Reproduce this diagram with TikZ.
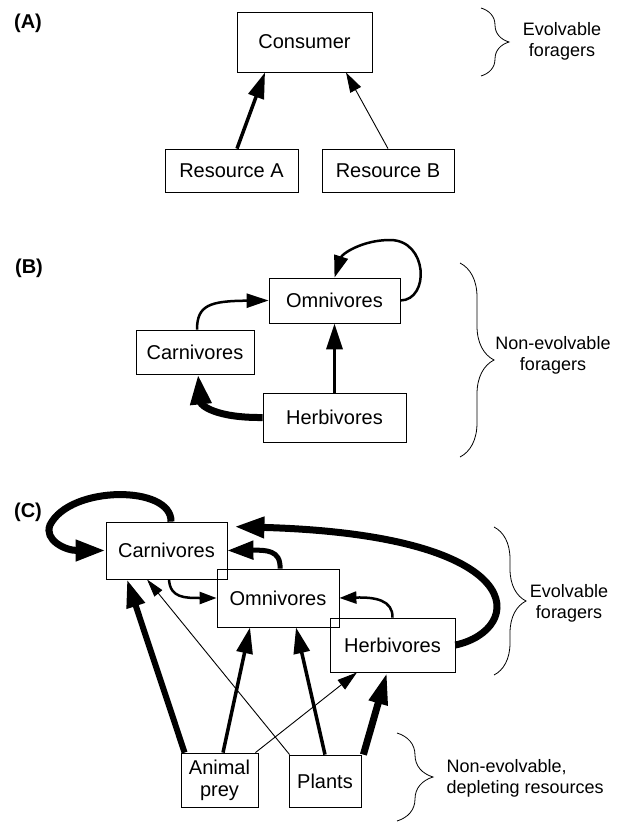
\documentclass[tikz,border=0pt]{standalone}
\usepackage{fontspec}
\setmainfont{Liberation Sans}
\usetikzlibrary{arrows.meta,decorations.pathreplacing}
\begin{document}
\begin{tikzpicture}[x=1pt,y=-1pt,
  box/.style={draw, line width=0.8pt, inner sep=0pt, font=\fontsize{20}{24}\selectfont},
  lbl/.style={font=\fontsize{20}{24}\selectfont\bfseries},
  side/.style={font=\fontsize{18}{21}\selectfont, align=center},
  brc/.style={decorate, decoration={brace, amplitude=#1}, line width=0.8pt},
  wa/.style={line width=0.9pt, -{Triangle[length=20pt,width=12pt]}},
  wb/.style={line width=2.5pt, -{Triangle[length=22pt,width=14pt]}},
  wc/.style={line width=3.5pt, -{Triangle[length=26pt,width=16pt]}},
  wd/.style={line width=7pt, -{Triangle[length=30pt,width=20pt]}},
]
\useasboundingbox (0,0) rectangle (620,822);

% ---------- Panel A ----------
\node[lbl] (la) at (28,23) {(A)};
\node[box, minimum width=135pt, minimum height=60pt] (cons) at (304.5,42) {Consumer};
\node[box, minimum width=133pt, minimum height=43pt] (resA) at (231.5,170.5) {Resource A};
\node[box, minimum width=132pt, minimum height=43pt] (resB) at (388,170.5) {Resource B};
\draw[wc] ([xshift=5.5pt]resA.north) -- ([xshift=-39.5pt]cons.south);
\draw[wa] (resB.north) -- ([xshift=41.5pt]cons.south);
\draw[brc=28pt] (481,8) -- (481,76);
\node[side] (ta) at (562,41) {Evolvable\\foragers};

% ---------- Panel B ----------
\node[lbl] (lb) at (29,268) {(B)};
\node[box, minimum width=131pt, minimum height=45pt] (omB) at (334.5,300.5) {Omnivores};
\node[box, minimum width=118pt, minimum height=44pt] (carnB) at (195,352) {Carnivores};
\node[box, minimum width=143pt, minimum height=49pt] (herbB) at (334.5,417.5) {Herbivores};
\draw[wb] ([xshift=2pt]carnB.north) .. controls (197,305) and (210,301) .. (omB.west);
\draw[wc] (herbB.north) -- (omB.south);
\draw[wd] (herbB.west) .. controls (215,418) and (201,405) .. ([xshift=3pt]carnB.south);
\draw[wb] (omB.east) .. controls (430,300) and (428,240) .. (390,240)
          .. controls (362,240) and (342,254) .. (omB.north);
\draw[brc=34pt] (460,263) -- (460,457);
\node[side] (tb) at (553,355) {Non-evolvable\\foragers};

% ---------- Panel C ----------
\node[lbl] (lc) at (28,512) {(C)};
\node[box, minimum width=121pt, minimum height=57pt] (carnC) at (166.5,550.5) {Carnivores};
\node[box, minimum width=122pt, minimum height=58pt] (omC) at (278,598) {Omnivores};
\node[box, minimum width=125pt, minimum height=54pt] (herbC) at (392.5,645) {Herbivores};
\node[box, minimum width=77pt, minimum height=54pt, align=center,
      font=\fontsize{20}{22}\selectfont] (apC) at (219.5,780) {Animal\\prey};
\node[box, minimum width=72pt, minimum height=52pt] (plC) at (325,781) {Plants};

\draw[wd] ([xshift=4.5pt]carnC.north) .. controls (172,485) and (70,485) .. (50,525)
          .. controls (44,540) and (65,550.5) .. (carnC.west);
\draw[wd] (herbC.east) .. controls (525,630) and (535,535) .. ([xshift=7pt,yshift=-5pt]carnC.north east);
\draw[line width=5pt, -{Triangle[length=26pt,width=18pt]}] ([xshift=2pt]omC.north) .. controls (281,550) and (266,550) .. (carnC.east);
\draw[wb, -{Triangle[length=17pt,width=12pt]}] ([xshift=2.5pt]carnC.south) .. controls (170,598) and (185,598) .. (omC.west);
\draw[wb, -{Triangle[length=17pt,width=12pt]}] (herbC.north) .. controls (393,600) and (375,597) .. (omC.east);

\draw[line width=6pt, -{Triangle[length=28pt,width=18pt]}] ([xshift=4pt]apC.north west) -- ([xshift=-39.5pt]carnC.south);
\draw[wa, -{Triangle[length=18pt,width=10pt]}] ([xshift=1pt]plC.north west) -- ([xshift=-19.5pt]carnC.south);
\draw[wc] ([xshift=3.5pt]apC.north) -- ([xshift=-28pt]omC.south);
\draw[wc] (plC.north) -- ([xshift=18pt]omC.south);
\draw[wa] ([xshift=-3pt]apC.north east) -- ([xshift=-35.5pt]herbC.south);
\draw[wd, -{Triangle[length=32pt,width=18pt]}] ([xshift=2pt]plC.north east) -- ([xshift=-5.5pt]herbC.south);

\draw[brc=32pt] (494,527) -- (494,675);
\node[side] (tc) at (569,603) {Evolvable\\foragers};
\draw[brc=36pt] (397,733) -- (397,821);
\node[side, align=left, anchor=west] (td) at (443,778) {Non-evolvable,\\depleting resources};
\end{tikzpicture}
\end{document}
